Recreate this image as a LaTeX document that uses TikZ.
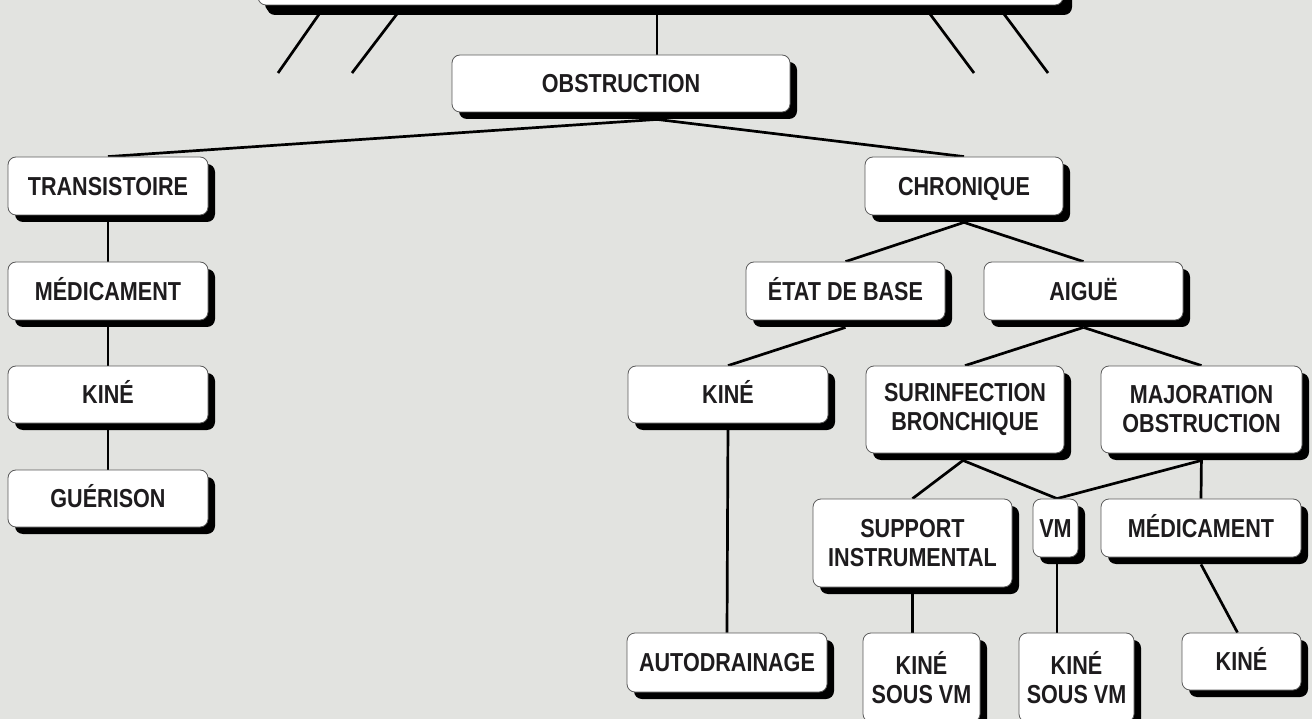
\documentclass[tikz,border=0pt]{standalone}
\usepackage{fontspec}
\setmainfont[FakeStretch=0.83]{Liberation Sans}
\usetikzlibrary{shadows,backgrounds}
\definecolor{bgc}{RGB}{226,227,224}
\definecolor{ink}{RGB}{30,28,30}
\definecolor{edge}{RGB}{90,90,90}
\tikzset{
  box/.style={draw=edge, line width=0.8pt, fill=white, rounded corners=8pt,
    inner sep=0pt, align=center, text=ink,
    font=\fontsize{26}{29}\selectfont\bfseries,
    drop shadow={shadow xshift=7pt, shadow yshift=-7pt, fill=black, opacity=1}},
  one/.style={text height=18.6pt, text depth=0pt},
  bigshadow/.style={drop shadow={shadow xshift=9pt, shadow yshift=-10pt, fill=black, opacity=1}},
  link/.style={draw=black, line width=2.7pt}
}
\begin{document}
\begin{tikzpicture}[x=1pt,y=-1pt]
\useasboundingbox (0,0) rectangle (1312,719);
% nodes
\node[box, bigshadow, minimum width=805pt, minimum height=65pt] (top) at (660.5,-27.5) {};
\node[box, one, minimum width=338pt, minimum height=57pt] (obs) at (621,83.5) {OBSTRUCTION};
\node[box, one, minimum width=200pt, minimum height=58pt] (trans) at (108,186) {TRANSISTOIRE};
\node[box, one, minimum width=200pt, minimum height=58pt] (med1) at (108,291) {MÉDICAMENT};
\node[box, one, minimum width=200pt, minimum height=57pt] (kine1) at (108,394.5) {KINÉ};
\node[box, one, minimum width=200pt, minimum height=57pt] (guer) at (108,498.5) {GUÉRISON};
\node[box, one, minimum width=198pt, minimum height=58pt] (chron) at (964,186) {CHRONIQUE};
\node[box, one, minimum width=199pt, minimum height=58pt] (etat) at (845.5,291) {ÉTAT DE BASE};
\node[box, one, minimum width=199pt, minimum height=58pt] (aigue) at (1083.5,291) {AIGUË};
\node[box, one, minimum width=200pt, minimum height=57pt] (kine2) at (728,394.5) {KINÉ};
\node[box, minimum width=198pt, minimum height=87pt] (surinf) at (965,409.5) {SURINFECTION\\BRONCHIQUE};
\node[box, minimum width=201pt, minimum height=87pt] (major) at (1201.5,409.5) {MAJORATION\\OBSTRUCTION};
\node[box, minimum width=199pt, minimum height=88pt] (support) at (912.5,543) {SUPPORT\\INSTRUMENTAL};
\node[box, one, minimum width=45pt, minimum height=58pt] (vm) at (1055.5,528) {VM};
\node[box, one, minimum width=200pt, minimum height=58pt] (med2) at (1201,528) {MÉDICAMENT};
\node[box, one, minimum width=200pt, minimum height=59pt] (auto) at (727,662.5) {AUTODRAINAGE};
\node[box, minimum width=117pt, minimum height=89pt] (ksv1) at (921.5,677.5) {KINÉ\\SOUS VM};
\node[box, minimum width=115pt, minimum height=89pt] (ksv2) at (1076.5,677.5) {KINÉ\\SOUS VM};
\node[box, one, minimum width=119pt, minimum height=57pt] (kine3) at (1241.5,661.5) {KINÉ};
% free ends and junctions
\coordinate (j0) at (657,0);
\coordinate (f1a) at (322,10);
\coordinate (f1b) at (278,73);
\coordinate (f2a) at (400,10);
\coordinate (f2b) at (352,73);
\coordinate (f3a) at (927,10);
\coordinate (f3b) at (974,73);
\coordinate (f4a) at (1001,10);
\coordinate (f4b) at (1048,73);
\coordinate (obsj) at (obs.south -| j0);
\coordinate (obsb) at ([yshift=-7pt]obsj);
\coordinate (surj) at ([xshift=-2pt,yshift=-7pt]surinf.south);
\coordinate (vmt) at ([xshift=1.5pt]vm.north);
\coordinate (vmb) at ([xshift=1.5pt,yshift=-7pt]vm.south);
\begin{scope}[on background layer]
\fill[bgc] (-20,-80) rectangle (1340,760);
\draw[link] (f1a) -- (f1b);
\draw[link] (f2a) -- (f2b);
\draw[link] (f3a) -- (f3b);
\draw[link] (f4a) -- (f4b);
\draw[link] (top.south -| j0) -- (obs.north -| j0);
\draw[link] (obsb) -- (trans.north);
\draw[link] (obsb) -- (chron.north);
\draw[link] (trans.south) -- (med1.north);
\draw[link] (med1.south) -- (kine1.north);
\draw[link] (kine1.south) -- (guer.north);
\draw[link] ([yshift=-7pt]chron.south) -- (etat.north);
\draw[link] ([yshift=-7pt]chron.south) -- (aigue.north);
\draw[link] ([yshift=-7pt]etat.south) -- (kine2.north);
\draw[link] ([yshift=-7pt]aigue.south) -- (surinf.north);
\draw[link] ([yshift=-7pt]aigue.south) -- (major.north);
\draw[link] (kine2.south) -- (auto.north);
\draw[link] (surj) -- (support.north);
\draw[link] (surj) -- (vmt);
\draw[link] ([yshift=-7pt]major.south) -- (vmt);
\draw[link] (major.south) -- (med2.north);
\draw[link] (support.south) -- (support.south |- ksv1.north);
\draw[link] (vmb) -- (vmb |- ksv2.north);
\draw[link] ([yshift=-7pt]med2.south) -- ([xshift=-4pt]kine3.north);
\end{scope}
\end{tikzpicture}
\end{document}
